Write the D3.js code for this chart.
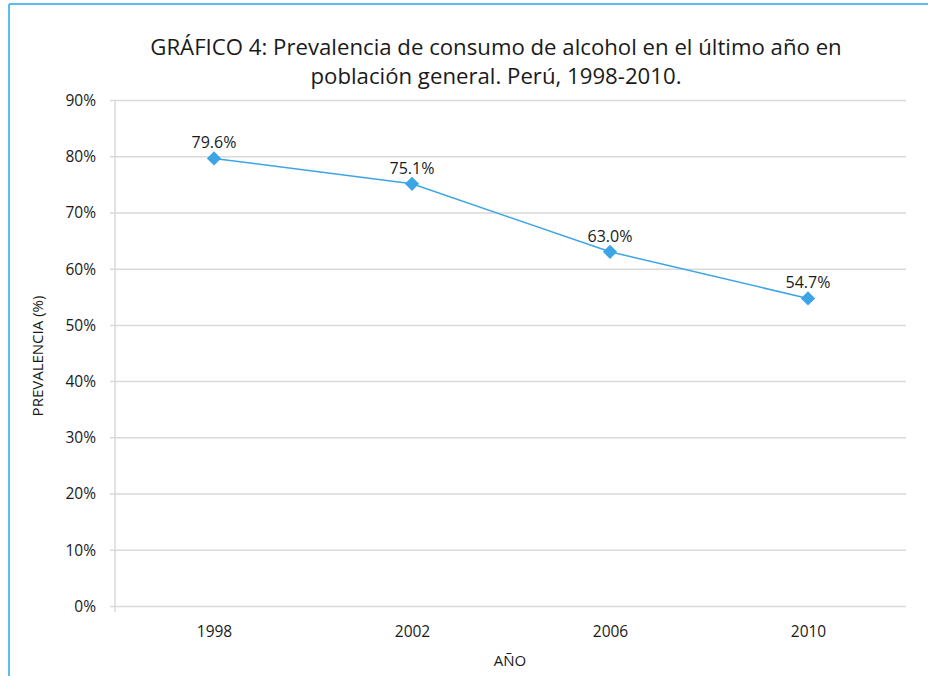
<!DOCTYPE html>
<html>
<head>
<meta charset="utf-8">
<script src="https://cdn.jsdelivr.net/npm/d3@7"></script>
<style>
  body { margin: 0; background: #fff; }
  svg text { font-family: "Open Sans", sans-serif; fill: #1a1a1a; }
</style>
</head>
<body>
<svg id="line_chart"></svg>
<script>
var years = ["1998", "2002", "2006", "2010"];
var prevalence = [79.6, 75.1, 63.0, 54.7];
var yTicks = [0, 10, 20, 30, 40, 50, 60, 70, 80, 90];
var titleLines = [
    "GRÁFICO 4: Prevalencia de consumo de alcohol en el último año en",
    "población general. Perú, 1998-2010."
];

var width = 928;
var height = 676;
var plotLeft = 115, plotRight = 907, plotTop = 100, plotBottom = 606;
var blue = "#3ba5e6";

var svg = d3.select("#line_chart")
    .attr("width", width)
    .attr("height", height);

// frame lines (top and left only are visible)
svg.append("line")
    .attr("x1", 9).attr("x2", width).attr("y1", 4).attr("y2", 4)
    .attr("stroke", "#5bbcf2").attr("stroke-width", 2);
svg.append("line")
    .attr("x1", 9).attr("x2", 9).attr("y1", 4).attr("y2", height)
    .attr("stroke", "#5bbcf2").attr("stroke-width", 2);

var xScale = d3.scalePoint()
    .domain(years)
    .range([plotLeft, plotRight])
    .padding(0.5);
var yScale = d3.scaleLinear()
    .domain([0, 90])
    .range([plotBottom, plotTop]);

// gridlines + y labels
var yAxis = d3.axisLeft(yScale)
    .tickValues(yTicks)
    .tickSize(-(plotRight - 1 - plotLeft))
    .tickFormat(function(d){ return d + "%"; });
var gy = svg.append("g")
    .attr("transform", "translate(" + plotLeft + ",0)")
    .call(yAxis);
gy.select(".domain").remove();
gy.selectAll(".tick line")
    .attr("x1", -5)
    .attr("stroke", "#d9d9d9")
    .attr("stroke-width", 1.5);
gy.selectAll(".tick text")
    .attr("font-size", 15.5)
    .attr("x", -19)
    .attr("dy", "0.35em");

// vertical axis line
svg.append("line")
    .attr("x1", plotLeft).attr("x2", plotLeft)
    .attr("y1", plotTop).attr("y2", plotBottom + 6)
    .attr("stroke", "#d9d9d9").attr("stroke-width", 1.5);

// x labels
var xAxis = d3.axisBottom(xScale).tickSize(0).tickPadding(20);
var gx = svg.append("g")
    .attr("transform", "translate(0," + plotBottom + ")")
    .call(xAxis);
gx.select(".domain").remove();
gx.selectAll(".tick text").attr("font-size", 15.5);

var data = years.map(function(y, i){ return {year: y, value: prevalence[i]}; });

var linePath = d3.line()
    .x(function(d){ return xScale(d.year); })
    .y(function(d){ return yScale(d.value); });

svg.append("path")
    .attr("d", linePath(data))
    .attr("fill", "none")
    .attr("stroke", blue)
    .attr("stroke-width", 1.5);

svg.append("g")
    .selectAll("path")
    .data(data)
    .enter()
    .append("path")
    .attr("d", d3.symbol().type(d3.symbolDiamond2).size(130))
    .attr("transform", function(d){
        return "translate(" + xScale(d.year) + "," + yScale(d.value) + ")";
    })
    .attr("fill", blue);

svg.append("g")
    .selectAll("text")
    .data(data)
    .enter()
    .append("text")
    .attr("x", function(d){ return xScale(d.year); })
    .attr("y", function(d){ return yScale(d.value) - 10; })
    .attr("text-anchor", "middle")
    .attr("font-size", 16)
    .text(function(d){ return d.value.toFixed(1) + "%"; });

// title
svg.append("g")
    .selectAll("text")
    .data(titleLines)
    .enter()
    .append("text")
    .attr("x", 496)
    .attr("y", function(d, i){ return 55 + i * 29; })
    .attr("text-anchor", "middle")
    .attr("font-size", 22.2)
    .text(function(d){ return d; });

// axis titles
svg.append("text")
    .attr("x", 510).attr("y", 666)
    .attr("text-anchor", "middle")
    .attr("font-size", 15)
    .text("AÑO");
svg.append("text")
    .attr("transform", "translate(43,356) rotate(-90)")
    .attr("text-anchor", "middle")
    .attr("font-size", 15)
    .text("PREVALENCIA (%)");
</script>
</body>
</html>
